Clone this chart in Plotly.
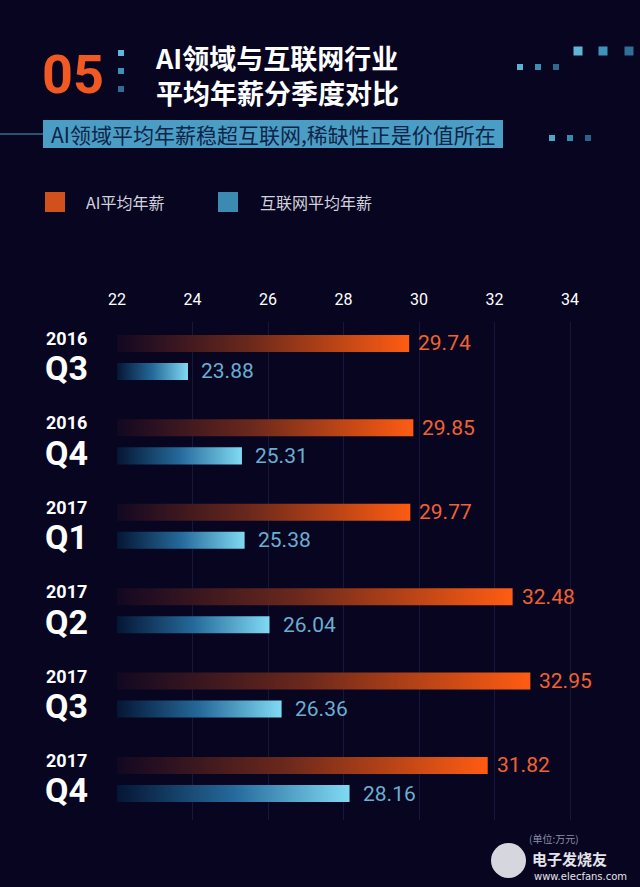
import plotly.graph_objects as go

# ---------------- data ----------------
years = ["2016", "2016", "2017", "2017", "2017", "2017"]
quarters = ["Q3", "Q4", "Q1", "Q2", "Q3", "Q4"]
ai_salary = [29.74, 29.85, 29.77, 32.48, 32.95, 31.82]
internet_salary = [23.88, 25.31, 25.38, 26.04, 26.36, 28.16]
x_ticks = [22, 24, 26, 28, 30, 32, 34]
series_names = ["AI平均年薪", "互联网平均年薪"]
unit_note = "(单位:万元)"
title_no = "05"
title_lines = ["AI领域与互联网行业", "平均年薪分季度对比"]
subtitle = "AI领域平均年薪稳超互联网,稀缺性正是价值所在"

# ---------------- styling / layout ----------------
W, H = 640, 887
L, R, T, B = 117, 13, 322, 67
PW, PH = W - L - R, H - T - B
BASE = x_ticks[0]
BG = "#07051f"
ORANGE_TXT = "#f26133"
BLUE_TXT = "#6aaed2"
NUM_FONT = "Roboto, sans-serif"
CJK_FONT = "Noto Sans CJK SC, sans-serif"


def px(x):
    return (x - L) / PW


def py(y):
    return (H - B - y) / PH


def nfont(size, color, bold=False):
    d = dict(family=NUM_FONT, size=size, color=color)
    if bold:
        d["weight"] = "bold"
    return d


fig = go.Figure()

n = len(quarters)
for i in range(n):
    y0, y1 = i - 0.267, i - 0.065
    v = ai_salary[i]
    fig.add_trace(go.Scatter(
        x=[BASE, v, v, BASE, BASE], y=[y0, y0, y1, y1, y0],
        mode="lines", line=dict(width=0), fill="toself",
        fillgradient=dict(type="horizontal",
                          colorscale=[[0, "#120822"], [0.45, "#6a281c"], [1, "#ff5c12"]]),
        hoverinfo="skip", showlegend=False))
    y0, y1 = i + 0.065, i + 0.267
    v = internet_salary[i]
    fig.add_trace(go.Scatter(
        x=[BASE, v, v, BASE, BASE], y=[y0, y0, y1, y1, y0],
        mode="lines", line=dict(width=0), fill="toself",
        fillgradient=dict(type="horizontal",
                          colorscale=[[0, "#051634"], [0.5, "#25699a"], [1, "#80daf3"]]),
        hoverinfo="skip", showlegend=False))

annotations = []
for i in range(n):
    annotations.append(dict(x=ai_salary[i], y=i - 0.166, xref="x", yref="y",
                            text=f"{ai_salary[i]:.2f}", showarrow=False,
                            xanchor="left", yanchor="middle", xshift=7,
                            font=nfont(21, ORANGE_TXT)))
    annotations.append(dict(x=internet_salary[i], y=i + 0.166, xref="x", yref="y",
                            text=f"{internet_salary[i]:.2f}", showarrow=False,
                            xanchor="left", yanchor="middle", xshift=11,
                            font=nfont(21, BLUE_TXT)))
    annotations.append(dict(x=px(44), y=i, xref="paper", yref="y", yshift=19,
                            text=years[i], showarrow=False, xanchor="left", yanchor="middle",
                            font=nfont(18, "white", True)))
    annotations.append(dict(x=px(43), y=i, xref="paper", yref="y", yshift=-11,
                            text=quarters[i], showarrow=False, xanchor="left", yanchor="middle",
                            font=nfont(34, "white", True)))

annotations.append(dict(x=px(40), y=py(74), xref="paper", yref="paper", text=title_no,
                        showarrow=False, xanchor="left", yanchor="middle",
                        font=nfont(54, "#f05a22", True)))
annotations.append(dict(x=px(153), y=py(75), xref="paper", yref="paper",
                        text="<br>".join(title_lines), align="left",
                        showarrow=False, xanchor="left", yanchor="middle",
                        font=dict(family=CJK_FONT, size=27, color="white", weight="bold")))
annotations.append(dict(x=px(49), y=py(134), xref="paper", yref="paper", text=subtitle,
                        showarrow=False, xanchor="left", yanchor="middle",
                        font=dict(family=CJK_FONT, size=21, color="#0f2448")))
annotations.append(dict(x=px(84), y=py(202), xref="paper", yref="paper", text=series_names[0],
                        showarrow=False, xanchor="left", yanchor="middle",
                        font=dict(family=CJK_FONT, size=16, color="#d2d3de")))
annotations.append(dict(x=px(258), y=py(202), xref="paper", yref="paper", text=series_names[1],
                        showarrow=False, xanchor="left", yanchor="middle",
                        font=dict(family=CJK_FONT, size=16, color="#d2d3de")))
annotations.append(dict(x=px(527), y=py(838), xref="paper", yref="paper", text=unit_note,
                        showarrow=False, xanchor="left", yanchor="middle",
                        font=dict(family=CJK_FONT, size=10, color="#8d8fa8")))
annotations.append(dict(x=px(530), y=py(858), xref="paper", yref="paper", text="电子发烧友",
                        showarrow=False, xanchor="left", yanchor="middle",
                        font=dict(family=CJK_FONT, size=15, color="#e4e4ea", weight="bold")))
annotations.append(dict(x=px(532), y=py(876), xref="paper", yref="paper", text="www.elecfans.com",
                        showarrow=False, xanchor="left", yanchor="middle",
                        font=dict(family="DejaVu Sans, sans-serif", size=10, color="#e4e4ea")))

shapes = []
shapes.append(dict(type="rect", xref="paper", yref="paper", x0=px(43), x1=px(503),
                   y0=py(120), y1=py(148), fillcolor="#4a9ec5", line=dict(width=0), layer="below"))
shapes.append(dict(type="line", xref="paper", yref="paper", x0=px(0), x1=px(43),
                   y0=py(134), y1=py(134), line=dict(color="#4a9ec5", width=1)))
shapes.append(dict(type="rect", xref="paper", yref="paper", x0=px(45), x1=px(65),
                   y0=py(192), y1=py(212), fillcolor="#d2501c", line=dict(width=0)))
shapes.append(dict(type="rect", xref="paper", yref="paper", x0=px(218), x1=px(238),
                   y0=py(192), y1=py(212), fillcolor="#3a8ab2", line=dict(width=0)))


def dot(cx, cy, s, color):
    shapes.append(dict(type="rect", xref="paper", yref="paper",
                       x0=px(cx - s / 2), x1=px(cx + s / 2),
                       y0=py(cy - s / 2), y1=py(cy + s / 2),
                       fillcolor=color, line=dict(width=0)))


dot(121, 53, 6, "#5fb8da")
dot(121, 71, 6, "#3f8fb8")
dot(121, 89, 6, "#2c6d94")
dot(578, 51, 9, "#5fb5d6")
dot(603, 51, 9, "#3f93ba")
dot(629, 51, 9, "#2f6f98")
dot(520, 67, 6, "#5bb0d4")
dot(538, 67, 6, "#3f8db5")
dot(556, 67, 6, "#2c6a90")
dot(552, 138, 6, "#4fa6cb")
dot(570, 138, 6, "#3d88b0")
dot(588, 138, 6, "#2a6389")
shapes.append(dict(type="circle", xref="paper", yref="paper", x0=px(491), x1=px(526),
                   y0=py(843), y1=py(878), fillcolor="#d6d6de", line=dict(width=0)))

fig.update_layout(
    width=W, height=H,
    margin=dict(l=L, r=R, t=T, b=B),
    paper_bgcolor=BG, plot_bgcolor=BG,
    showlegend=False,
    xaxis=dict(range=[BASE, BASE + PW / 37.75], side="top",
               tickvals=x_ticks, ticktext=[str(t) for t in x_ticks],
               tickfont=nfont(16, "white"),
               ticks="outside", ticklen=10, tickcolor="rgba(0,0,0,0)",
               showgrid=True, gridcolor="#16183b", gridwidth=1,
               zeroline=False, showline=False, fixedrange=True),
    yaxis=dict(range=[5.48, -0.42], showgrid=False, zeroline=False,
               showticklabels=False, showline=False, fixedrange=True),
    annotations=annotations,
    shapes=shapes,
)

fig.write_html("out.html", config={"displayModeBar": False},
               post_script="document.body.style.margin='0';document.body.style.background='#07051f';")
